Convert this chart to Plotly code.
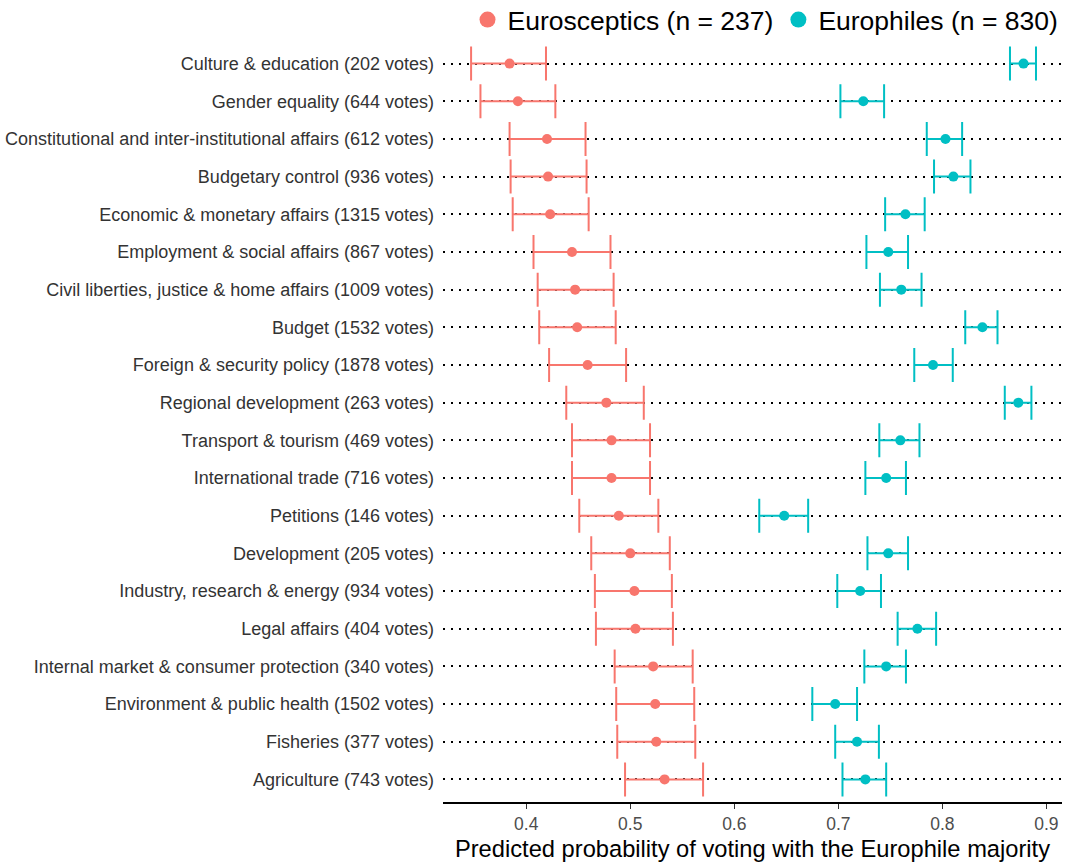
import plotly.graph_objects as go

categories = [
    "Culture & education (202 votes)",
    "Gender equality (644 votes)",
    "Constitutional and inter-institutional affairs (612 votes)",
    "Budgetary control (936 votes)",
    "Economic & monetary affairs (1315 votes)",
    "Employment & social affairs (867 votes)",
    "Civil liberties, justice & home affairs (1009 votes)",
    "Budget (1532 votes)",
    "Foreign & security policy (1878 votes)",
    "Regional development (263 votes)",
    "Transport & tourism (469 votes)",
    "International trade (716 votes)",
    "Petitions (146 votes)",
    "Development (205 votes)",
    "Industry, research & energy (934 votes)",
    "Legal affairs (404 votes)",
    "Internal market & consumer protection (340 votes)",
    "Environment & public health (1502 votes)",
    "Fisheries (377 votes)",
    "Agriculture (743 votes)",
]

sceptic_mean = [0.384, 0.392, 0.420, 0.421, 0.423, 0.444, 0.447, 0.449, 0.459, 0.477,
                0.482, 0.482, 0.489, 0.500, 0.504, 0.505, 0.522, 0.524, 0.525, 0.533]
sceptic_low = [0.347, 0.356, 0.384, 0.385, 0.387, 0.407, 0.411, 0.4125, 0.422, 0.4385,
               0.444, 0.444, 0.451, 0.4625, 0.466, 0.467, 0.485, 0.4865, 0.4875, 0.495]
sceptic_high = [0.419, 0.428, 0.457, 0.458, 0.460, 0.481, 0.484, 0.486, 0.496, 0.513,
                0.519, 0.519, 0.527, 0.538, 0.540, 0.541, 0.560, 0.5615, 0.5625, 0.570]

phile_mean = [0.878, 0.724, 0.803, 0.8106, 0.7645, 0.748, 0.7605, 0.8385, 0.791, 0.873,
              0.7596, 0.746, 0.648, 0.748, 0.721, 0.776, 0.746, 0.697, 0.718, 0.726]
phile_low = [0.865, 0.702, 0.785, 0.792, 0.745, 0.727, 0.740, 0.822, 0.773, 0.860,
             0.7394, 0.726, 0.624, 0.728, 0.699, 0.757, 0.725, 0.675, 0.697, 0.704]
phile_high = [0.890, 0.744, 0.819, 0.827, 0.783, 0.767, 0.780, 0.853, 0.810, 0.8856,
              0.778, 0.765, 0.671, 0.767, 0.741, 0.794, 0.765, 0.718, 0.739, 0.746]

x_ticks = [0.4, 0.5, 0.6, 0.7, 0.8, 0.9]
x_tick_labels = ["0.4", "0.5", "0.6", "0.7", "0.8", "0.9"]

RED = "#F8766D"
TEAL = "#00BFC4"
FONT = "Liberation Sans, Arial, sans-serif"

fig = go.Figure()

for name, mean, low, high, col in [
    ("Eurosceptics (n = 237)", sceptic_mean, sceptic_low, sceptic_high, RED),
    ("Europhiles (n = 830)", phile_mean, phile_low, phile_high, TEAL),
]:
    fig.add_trace(go.Scatter(
        x=mean, y=categories, mode="markers",
        marker=dict(color=col, size=10),
        error_x=dict(type="data", symmetric=False,
                     array=[h - m for h, m in zip(high, mean)],
                     arrayminus=[m - l for m, l in zip(mean, low)],
                     color=col, thickness=2, width=17),
        showlegend=False, hoverinfo="x+y",
    ))
    fig.add_trace(go.Scatter(
        x=[None], y=[None], mode="markers", name=name,
        marker=dict(color=col, size=16), showlegend=True,
    ))

n_cat = len(categories)

fig.update_layout(
    width=1071, height=863,
    margin=dict(l=443, r=9, t=41, b=61, autoexpand=False),
    paper_bgcolor="white", plot_bgcolor="white",
    font=dict(family=FONT, color="#333333"),
    showlegend=True,
    legend=dict(orientation="h", xref="container", yref="container",
                xanchor="right", x=0.993, yanchor="middle", y=0.977,
                font=dict(size=26.5, color="#000000", family=FONT),
                itemsizing="trace", tracegroupgap=0, itemwidth=30,
                bgcolor="rgba(0,0,0,0)"),
    xaxis=dict(range=[0.320, 0.915], tickvals=x_ticks, ticktext=x_tick_labels,
               showgrid=False, zeroline=False, automargin=False,
               showline=True, linecolor="#000000", linewidth=1.5,
               ticks="outside", ticklen=5, tickcolor="#333333", tickwidth=1.2,
               tickfont=dict(size=17.5, color="#4D4D4D"),
               title=dict(text="Predicted probability of voting with the Europhile majority",
                          font=dict(size=23.7, color="#000000"), standoff=8)),
    yaxis=dict(categoryorder="array", categoryarray=categories[::-1],
               range=[-0.6, n_cat - 0.4],
               showgrid=True, gridcolor="#000000", gridwidth=2, griddash="2px,6px",
               showline=False, zeroline=False, ticks="", automargin=False,
               ticklabelstandoff=8,
               tickfont=dict(size=18, color="#333333")),
)

fig.write_html("out.html", config={"displayModeBar": False},
               post_script="document.body.style.margin='0';")
